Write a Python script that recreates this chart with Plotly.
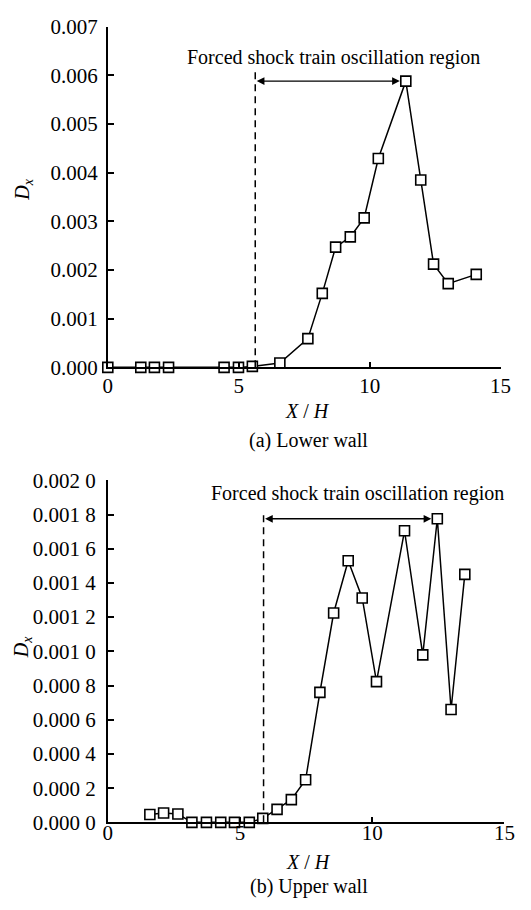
import plotly.graph_objects as go

# Lower wall: streamwise position X/H and oscillation amplitude D_x
lower_x = [0.0, 1.26, 1.78, 2.32, 4.44, 4.99, 5.52, 6.57, 7.64, 8.19, 8.70,
           9.26, 9.79, 10.33, 11.38, 11.95, 12.44, 13.00, 14.07]
lower_dx = [0.0, 0.0, 0.0, 0.0, 0.0, 0.0, 0.00002, 0.00009, 0.00059, 0.00152,
            0.00247, 0.00268, 0.00307, 0.00429, 0.00588, 0.00385, 0.00212,
            0.00172, 0.00191]

# Upper wall
upper_x = [1.59, 2.11, 2.65, 3.18, 3.73, 4.27, 4.79, 5.35, 5.86, 6.40, 6.94,
           7.48, 8.02, 8.54, 9.09, 9.62, 10.16, 11.22, 11.91, 12.46, 12.98, 13.50]
upper_dx = [0.000046, 0.000055, 0.000049, 0.0, 0.0, 0.0, 0.0, 0.0, 0.000023,
            0.000076, 0.000133, 0.000249, 0.00076, 0.001224, 0.00153, 0.001312,
            0.000823, 0.001705, 0.000979, 0.001775, 0.00066, 0.00145]

# Forced shock train oscillation region: [start (dashed line), end (peak point)]
lower_region = [5.63, 11.38]
upper_region = [5.89, 12.46]

x_ticks = [0, 5, 10, 15]
lower_yticks = [0.000, 0.001, 0.002, 0.003, 0.004, 0.005, 0.006, 0.007]
lower_ytext = ["0.000", "0.001", "0.002", "0.003", "0.004", "0.005", "0.006", "0.007"]
upper_yticks = [0.0000, 0.0002, 0.0004, 0.0006, 0.0008, 0.0010, 0.0012,
                0.0014, 0.0016, 0.0018, 0.0020]
upper_ytext = ["0.000 0", "0.000 2", "0.000 4", "0.000 6", "0.000 8", "0.001 0",
               "0.001 2", "0.001 4", "0.001 6", "0.001 8", "0.002 0"]

FONT = "'Liberation Serif', 'Times New Roman', Times, serif"
W, H = 531, 910

line_style = dict(color="black", width=1.5)
marker_style = dict(symbol="square", size=10, color="white",
                    line=dict(color="black", width=1.6))

fig = go.Figure()
fig.add_trace(go.Scatter(x=lower_x, y=lower_dx, mode="lines+markers",
                         line=line_style, marker=marker_style,
                         cliponaxis=False, xaxis="x", yaxis="y"))
fig.add_trace(go.Scatter(x=upper_x, y=upper_dx, mode="lines+markers",
                         line=line_style, marker=marker_style,
                         cliponaxis=False, xaxis="x2", yaxis="y2"))

axis_common = dict(showline=True, linecolor="black", linewidth=1.6,
                   ticks="inside", ticklen=6, tickwidth=1.5, tickcolor="black",
                   showgrid=False, zeroline=False,
                   tickfont=dict(family=FONT, size=21, color="black"))

fig.update_layout(
    width=W, height=H,
    margin=dict(l=0, r=0, t=0, b=0),
    paper_bgcolor="white", plot_bgcolor="white",
    showlegend=False,
    font=dict(family=FONT, color="black"),
    xaxis=dict(axis_common, domain=[106 / W, 511 / W], range=[0, 15],
               tickvals=x_ticks, anchor="y", ticklabelstandoff=-1),
    yaxis=dict(axis_common, domain=[1 - 365 / H, 1 - 15 / H], range=[0, 0.007],
               tickvals=lower_yticks, ticktext=lower_ytext, anchor="x",
               ticklabelstandoff=4),
    xaxis2=dict(axis_common, domain=[106 / W, 515 / W], range=[0, 15],
                tickvals=x_ticks, anchor="y2", ticklabelstandoff=-9),
    yaxis2=dict(axis_common, domain=[1 - 832.3 / H, 1 - 481 / H], range=[0, 0.002],
                tickvals=upper_yticks, ticktext=upper_ytext, anchor="x2",
                ticklabelstandoff=6),
)

# Dashed boundary lines marking the start of the region
dash_style = dict(color="black", width=1.5, dash="7px,5px")
fig.add_shape(type="line", xref="x", yref="y", x0=lower_region[0], x1=lower_region[0],
              y0=0, y1=0.00606, line=dash_style)
fig.add_shape(type="line", xref="x2", yref="y2", x0=upper_region[0], x1=upper_region[0],
              y0=0, y1=0.00182, line=dash_style)

text_font = dict(family=FONT, size=20, color="black")
label_font = dict(family=FONT, size=20, color="black")

annotations = []
# Double-headed arrows spanning the oscillation region
for xr, yr, region, yv in (("x", "y", lower_region, lower_dx[lower_x.index(lower_region[1])]),
                           ("x2", "y2", upper_region, upper_dx[upper_x.index(upper_region[1])])):
    annotations.append(dict(x=region[1], y=yv, ax=region[0], ay=yv,
                            xref=xr, yref=yr, axref=xr, ayref=yr, text="",
                            showarrow=True, arrowside="end+start",
                            arrowhead=2, startarrowhead=2,
                            arrowsize=1.1, startarrowsize=1.1,
                            arrowwidth=1.4, arrowcolor="black",
                            standoff=6, startstandoff=0))

annotations += [
    dict(x=8.63, y=0.00636, xref="x", yref="y", text="Forced shock train oscillation region",
         showarrow=False, font=text_font, xanchor="center", yanchor="middle"),
    dict(x=9.46, y=0.00192, xref="x2", yref="y2", text="Forced shock train oscillation region",
         showarrow=False, font=text_font, xanchor="center", yanchor="middle"),
    # axis titles and captions
    dict(x=312 / W, y=1 - 410 / H, xref="paper", yref="paper", text="<i>X</i> / <i>H</i>",
         showarrow=False, font=label_font, xanchor="center", yanchor="middle"),
    dict(x=313 / W, y=1 - 440 / H, xref="paper", yref="paper", text="(a) Lower wall",
         showarrow=False, font=label_font, xanchor="center", yanchor="middle"),
    dict(x=313 / W, y=1 - 873 / H, xref="paper", yref="paper", text="<i>X</i> / <i>H</i>",
         showarrow=False, font=label_font, xanchor="center", yanchor="middle"),
    dict(x=313 / W, y=1 - 898 / H, xref="paper", yref="paper", text="(b) Upper wall",
         showarrow=False, font=label_font, xanchor="center", yanchor="middle"),
    dict(x=19 / W, y=1 - 182 / H, xref="paper", yref="paper",
         text="<i>D</i><sub><i>x</i></sub>", textangle=-90,
         showarrow=False, font=label_font, xanchor="center", yanchor="middle"),
    dict(x=18 / W, y=1 - 652 / H, xref="paper", yref="paper",
         text="<i>D</i><sub><i>x</i></sub>", textangle=-90,
         showarrow=False, font=label_font, xanchor="center", yanchor="middle"),
]
fig.update_layout(annotations=annotations)

fig.write_html("out.html")
